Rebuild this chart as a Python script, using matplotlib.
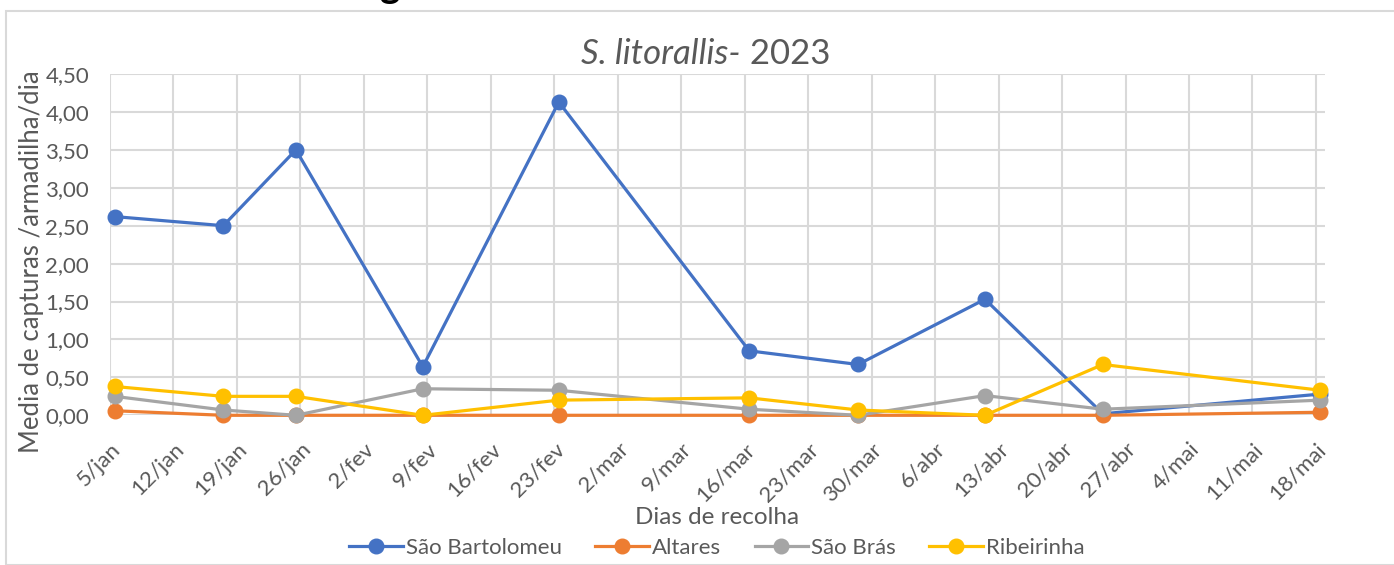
import matplotlib
matplotlib.use('AGG')
import numpy as np
import pandas as pd
import matplotlib.pyplot as plt
from matplotlib.patches import Rectangle
from matplotlib.ticker import FuncFormatter

plt.rcParams['font.family'] = ['Lato', 'DejaVu Sans']

# sampling dates and mean captures per trap per day
dates = ['2023-01-05', '2023-01-17', '2023-01-25', '2023-02-08', '2023-02-23',
         '2023-03-16', '2023-03-28', '2023-04-11', '2023-04-24', '2023-05-18']
sao_bartolomeu = [2.62, 2.50, 3.50, 0.64, 4.13, 0.85, 0.67, 1.53, 0.02, 0.28]
altares        = [0.06, 0.00, 0.00, 0.00, 0.00, 0.00, 0.00, 0.00, 0.00, 0.04]
sao_bras       = [0.25, 0.07, 0.00, 0.35, 0.33, 0.08, 0.00, 0.26, 0.08, 0.20]
ribeirinha     = [0.38, 0.25, 0.25, 0.00, 0.20, 0.23, 0.07, 0.00, 0.67, 0.33]

series_names = ['São Bartolomeu', 'Altares', 'São Brás', 'Ribeirinha']
colors = ['#4472C4', '#ED7D31', '#A5A5A5', '#FFC000']
months_pt = ['jan', 'fev', 'mar', 'abr', 'mai', 'jun', 'jul', 'ago', 'set', 'out', 'nov', 'dez']

text_col = '#595959'
grid_col = '#d9d9d9'

fig = plt.figure(figsize=(13.94, 5.65), dpi=100)
# chart area border
fig.patches.append(Rectangle((6/1394, 0), 1.0, 1 - 11/565, transform=fig.transFigure,
                             fill=False, edgecolor=grid_col, linewidth=1.5))
# cut-off heading above the chart (only its descender is visible)
fig.text(380/1394, 1 + 2/565, 'g', fontsize=28, fontweight='bold', color='black',
         ha='left', va='baseline')

ax = fig.add_axes([110/1394, 1 - 415.3/565, (1325 - 110)/1394, (415.3 - 74)/565])

# Excel date axis: each point sits in the middle of its day
x = pd.to_datetime(dates) + pd.Timedelta(hours=12)
for vals, name, c, z in zip([sao_bartolomeu, altares, sao_bras, ribeirinha],
                            series_names, colors, range(3, 7)):
    ax.plot(x, vals, color=c, lw=2.3, marker='o', markersize=10.5, label=name,
            zorder=z, clip_on=False)

ticks = pd.date_range('2023-01-05', '2023-05-18', freq='7D')
ax.set_xlim(pd.Timestamp('2023-01-05'), pd.Timestamp('2023-05-19'))
ax.set_xticks(ticks)
ax.set_xticklabels(['{:d}/{}'.format(t.day, months_pt[t.month - 1]) for t in ticks],
                   rotation=45, ha='right', rotation_mode='anchor')
ax.set_ylim(0, 4.5)
ax.set_yticks(np.arange(0, 4.51, 0.5))
ax.yaxis.set_major_formatter(FuncFormatter(lambda v, p: '{:.2f}'.format(v).replace('.', ',')))

ax.grid(True, color=grid_col, lw=1.5)
ax.set_axisbelow(True)
for s in ax.spines.values():
    s.set_visible(False)
ax.tick_params(axis='y', length=0, labelsize=16, colors=text_col, pad=15)
ax.tick_params(axis='x', length=0, labelsize=16, colors=text_col, pad=17)

ax.set_ylabel('Media de capturas /armadilha/dia', fontsize=18.5, color=text_col)
ax.yaxis.set_label_coords(-66/1215, 0.45)
fig.text(717/1394, 1 - 518/565, 'Dias de recolha', fontsize=17.5, color=text_col,
         ha='center', va='center')

# title: italic species name + year
fig.text(741/1394, 1 - 54/565, 'S. litorallis-', fontsize=25, style='italic',
         color=text_col, ha='right', va='center')
fig.text(741/1394, 1 - 54/565, ' 2023', fontsize=25, color=text_col,
         ha='left', va='center')

leg = fig.legend(loc='center', bbox_to_anchor=(717/1394, 1 - 548/565), ncol=4,
                 frameon=False, fontsize=16, handlelength=2.4, handletextpad=0.15,
                 columnspacing=1.5, labelcolor=text_col)

fig.savefig('out.png', dpi=100)
